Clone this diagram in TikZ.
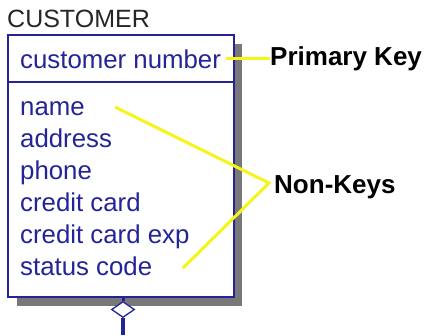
\documentclass[tikz,border=0pt]{standalone}
\usepackage{fontspec}
\usetikzlibrary{shapes.geometric}
\setmainfont{Liberation Sans}
\definecolor{erblue}{RGB}{36,36,150}
\definecolor{keyyellow}{RGB}{245,245,25}
\definecolor{shadowgray}{RGB}{120,120,120}
\begin{document}
\begin{tikzpicture}[x=1pt,y=-1pt,
    attr/.style={anchor=base west,inner sep=0pt,text=erblue,font=\fontsize{25.8}{30}\selectfont},
    keylabel/.style={anchor=base west,inner sep=0pt,font=\fontsize{26}{30}\selectfont\bfseries},
    pointer/.style={draw=keyyellow,line width=3pt}]
    \useasboundingbox (0,0) rectangle (427,335);

    % entity box with shadow
    \fill[shadowgray] (17,44) rectangle (242,306);
    \draw[erblue,line width=1.6pt,fill=white] (8,35) rectangle (234,297);
    \draw[erblue,line width=1.6pt] (8,82) -- (234,82);
    \node[anchor=base west,inner sep=0pt,text=black!85,font=\fontsize{25}{30}\selectfont] (title) at (7,27) {CUSTOMER};

    \node[attr] (pk)      at (20,68)  {customer number};
    \node[attr] (name)    at (20,115) {name};
    \node[attr] (address) at (20,147) {address};
    \node[attr] (phone)   at (20,179) {phone};
    \node[attr] (card)    at (20,211) {credit card};
    \node[attr] (cardexp) at (20,243) {credit card exp};
    \node[attr] (status)  at (20,275) {status code};

    % relationship end
    \node[draw=erblue,fill=white,line width=1.3pt,diamond,shape aspect=1.4,minimum width=23pt,minimum height=16pt,inner sep=0pt] (dia) at (123,309.5) {};
    \coordinate (boxbottom) at (123,297);
    \coordinate (linend) at (123,335);
    \draw[erblue,line width=3pt] (boxbottom) -- (dia.north);
    \draw[erblue,line width=3.5pt] (dia.south) -- (linend);

    % labels
    \node[keylabel] (primary) at (270,65)  {Primary Key};
    \node[keylabel] (nonkeys) at (274,193) {Non-Keys};

    \coordinate (pkend)     at (226,58);
    \coordinate (nameend)   at (115,107);
    \coordinate (statusend) at (183,268);
    \coordinate (nkvertex)  at (269,183);
    \draw[pointer] (pkend) -- (primary.west |- pkend);
    \draw[pointer,line join=miter] (nameend) -- (nkvertex) -- (statusend);
\end{tikzpicture}
\end{document}
